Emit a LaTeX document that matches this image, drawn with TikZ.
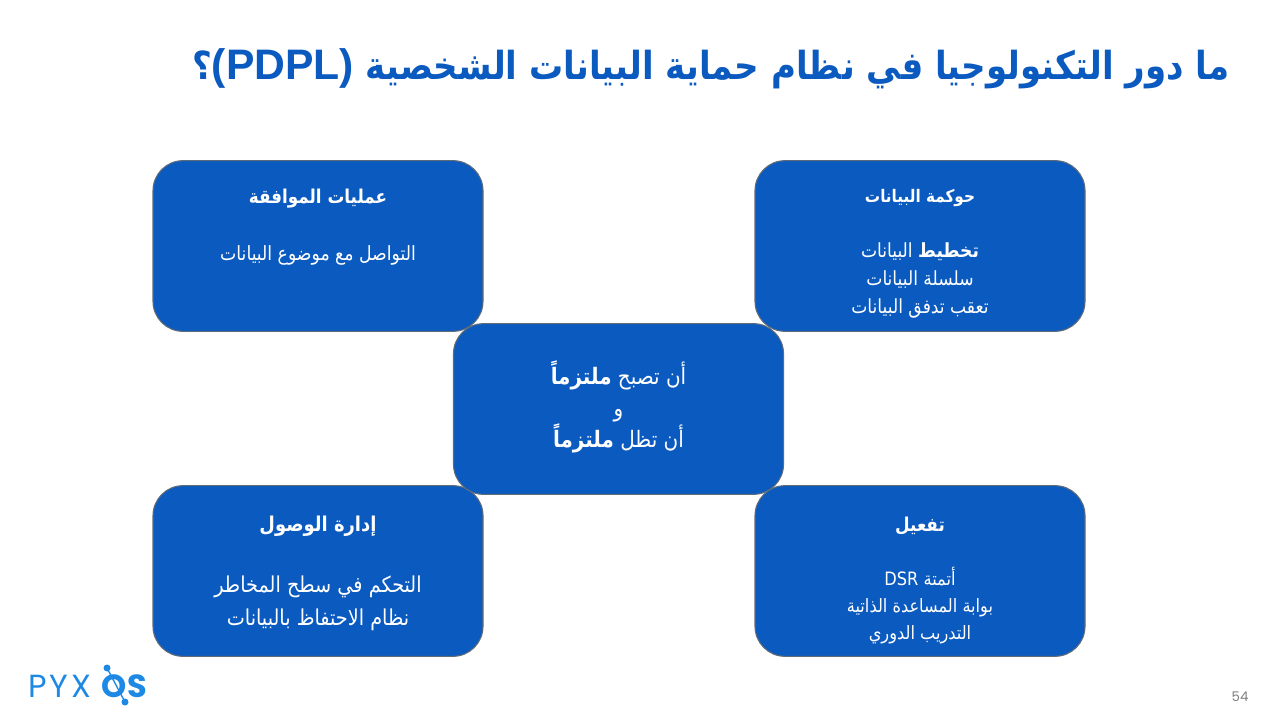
\documentclass[tikz,border=0pt]{standalone}
\usepackage{fontspec}
\setmainfont{Liberation Sans}
\TeXXeTstate=1
\newfontfamily\arabicfont[Script=Arabic,FakeStretch=0.88]{DejaVu Sans}
\newfontfamily\logofont[LetterSpace=9]{Poppins}
\newfontfamily\logoboldfont[LetterSpace=2]{Poppins}
\newfontfamily\pagefont{Poppins}
\definecolor{boxblue}{HTML}{0B5ABF}
\definecolor{boxedge}{HTML}{5E6B78}
\definecolor{logoblue}{HTML}{1E88E5}
\tikzset{
  blockbox/.style={draw=boxedge,line width=0.8pt,fill=boxblue,rounded corners=22.5pt,minimum width=247.5pt,minimum height=128pt,inner sep=0pt},
  blocktext/.style={text=white,align=center,inner sep=0pt,font=\arabicfont\fontsize{14}{21}\selectfont},
  blockhead/.style={blocktext,font=\arabicfont\bfseries\fontsize{14.3}{20}\selectfont},
}
\begin{document}
\begin{tikzpicture}[x=0.75pt,y=-0.75pt,line join=round,line cap=round]
\useasboundingbox (0,0) rectangle (1280,720);
\fill[white] (0,0) rectangle (1280,720);
\node[inner sep=0pt,text=boxblue,anchor=east] (title) at (1230,69) {\arabicfont\bfseries\fontsize{29}{30}\selectfont\beginR ما دور التكنولوجيا في نظام حماية البيانات الشخصية \beginL{\normalfont\bfseries\fontsize{32}{30}\selectfont(PDPL)}\endL؟\endR};
\node[blockbox] (consent) at (318,246) {};
\node[blockbox] (governance) at (920,246) {};
\node[blockbox] (access) at (318,571) {};
\node[blockbox] (activation) at (920,571) {};
\node[blockbox] (compliant) at (618.5,409) {};
\node[blockhead] (consenthead) at (318,199) {\beginR عمليات الموافقة\endR};
\node[blocktext,font=\arabicfont\fontsize{14.7}{21}\selectfont] (consentbody) at (318,255) {\beginR التواصل مع موضوع البيانات\endR};
\node[blockhead,font=\arabicfont\bfseries\fontsize{13}{20}\selectfont] (governancehead) at (920,198) {\beginR حوكمة البيانات\endR};
\node[blocktext,font=\arabicfont\fontsize{14.6}{21}\selectfont] (governancebody) at (920,280) {\beginR {\bfseries تخطيط} البيانات\endR\\\beginR سلسلة البيانات\endR\\\beginR تعقب تدفق البيانات\endR};
\node[blockhead,font=\arabicfont\bfseries\fontsize{15.3}{20}\selectfont] (accesshead) at (318,526) {\beginR إدارة الوصول\endR};
\node[blocktext,font=\arabicfont\fontsize{16.4}{25}\selectfont] (accessbody) at (318,603) {\beginR التحكم في سطح المخاطر\endR\\\beginR نظام الاحتفاظ بالبيانات\endR};
\node[blockhead] (activationhead) at (920,526) {\beginR تفعيل\endR};
\node[blocktext,font=\arabicfont\fontsize{13.8}{20.2}\selectfont] (activationbody) at (920,605.5) {\beginR أتمتة \beginL DSR\endL\endR\\\beginR بوابة المساعدة الذاتية\endR\\\beginR التدريب الدوري\endR};
\node[blocktext,font=\arabicfont\fontsize{17}{23.5}\selectfont] (compliantbody) at (618.5,407) {\beginR أن تصبح {\bfseries ملتزماً}\endR\\\beginR و\endR\\\beginR أن تظل {\bfseries ملتزماً}\endR};
\node[inner sep=0pt,anchor=west,text=logoblue,font=\logofont\fontsize{24}{24}\selectfont] (logotext) at (28,686) {PYX};
\node[inner sep=0pt,anchor=west,text=logoblue,font=\logoboldfont\bfseries\fontsize{24}{24}\selectfont] (logoletter) at (101.5,686) {OS};
\draw[logoblue,line width=1pt] (107,668) -- (125,702);
\fill[logoblue] (107,668) circle (3.5) (125,702) circle (3.5);
\node[inner sep=0pt,text=gray,font=\pagefont\fontsize{10}{10}\selectfont] (pagenum) at (1240,697) {54};
\end{tikzpicture}
\end{document}
